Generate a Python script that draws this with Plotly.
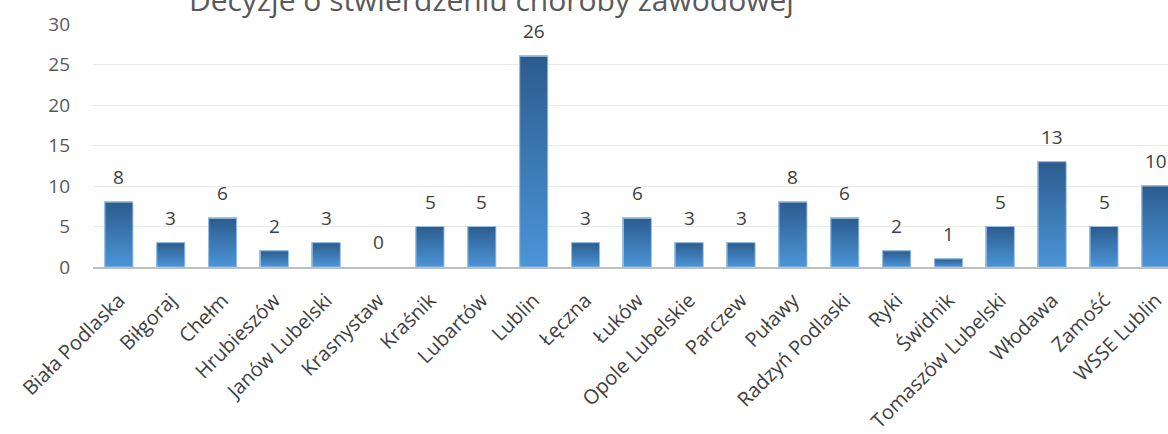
import plotly.graph_objects as go

# Occupational disease decisions by district station
districts = [
    "Biała Podlaska", "Biłgoraj", "Chełm", "Hrubieszów", "Janów Lubelski",
    "Krasnystaw", "Kraśnik", "Lubartów", "Lublin", "Łęczna", "Łuków",
    "Opole Lubelskie", "Parczew", "Puławy", "Radzyń Podlaski", "Ryki",
    "Świdnik", "Tomaszów Lubelski", "Włodawa", "Zamość", "WSSE Lublin",
]
decisions = [8, 3, 6, 2, 3, 0, 5, 5, 26, 3, 6, 3, 3, 8, 6, 2, 1, 5, 13, 5, 10]

y_ticks = [0, 5, 10, 15, 20, 25, 30]
title_text = "Decyzje o stwierdzeniu choroby zawodowej"

BAR_W = 0.54
FONT = "Open Sans"
DARK = "#2c5c8e"
LIGHT = "#4b95d8"

xs = list(range(len(districts)))

fig = go.Figure()

# Base bars
fig.add_trace(go.Bar(
    x=xs, y=decisions, width=BAR_W,
    marker=dict(color="#3a78b6",
                line=dict(color="#9cc2e6",
                          width=[1 if v > 0 else 0 for v in decisions])),
    hovertext=districts, hoverinfo="text+y",
    showlegend=False,
))

# Vertical gradient fill over each bar (dark top, light bottom)
for x, v in zip(xs, decisions):
    if v <= 0:
        continue
    x0, x1 = x - BAR_W / 2, x + BAR_W / 2
    fig.add_trace(go.Scatter(
        x=[x0, x1, x1, x0, x0], y=[0, 0, v, v, 0],
        mode="lines", fill="toself",
        line=dict(color="rgba(156,194,230,0.9)", width=1),
        fillgradient=dict(type="vertical",
                          colorscale=[[0, LIGHT], [1, DARK]]),
        hoverinfo="skip", showlegend=False,
    ))

# Value labels above the bars
for x, v in zip(xs, decisions):
    fig.add_annotation(
        x=x, y=v, xref="x", yref="y", text=str(v),
        showarrow=False, yanchor="bottom", yshift=10,
        font=dict(family=FONT, size=19, color="#404040"),
    )

# Title
fig.add_annotation(
    x=(491 - 93) / (1168 - 93), y=1.10, xref="paper", yref="paper",
    text=title_text, showarrow=False, xanchor="center", yanchor="middle",
    font=dict(family=FONT, size=30, color="#595959"),
)

fig.update_layout(
    width=1168, height=434,
    margin=dict(l=93, r=0, t=24, b=165),
    paper_bgcolor="white", plot_bgcolor="white",
    bargap=0,
    xaxis=dict(
        range=[-0.5, -0.5 + (1168 - 93) / 51.85],
        tickmode="array", tickvals=xs, ticktext=districts,
        tickangle=-45, showgrid=False, zeroline=False,
        showline=True, linecolor="#bfbfbf", linewidth=1.5,
        ticks="", ticklabelstandoff=12,
        tickfont=dict(family=FONT, size=20, color="#404040"),
    ),
    yaxis=dict(
        range=[0, 30], tickmode="array", tickvals=y_ticks,
        showgrid=True, gridcolor="#e9e9e9", gridwidth=1,
        zeroline=False, showline=False, ticks="",
        ticklabelstandoff=22,
        tickfont=dict(family=FONT, size=19, color="#595959"),
    ),
)

fig.write_html("out.html")
